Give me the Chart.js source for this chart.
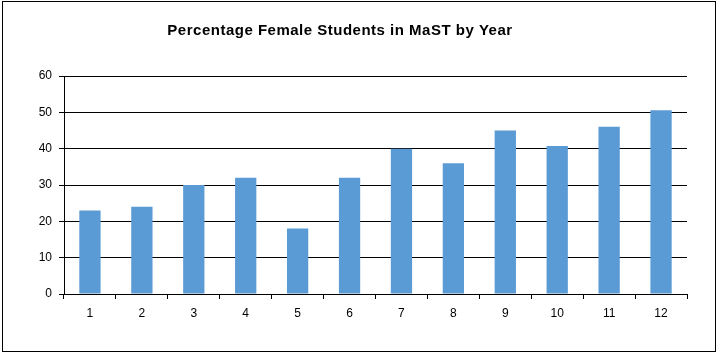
<!DOCTYPE html>
<html><head><meta charset="utf-8">
<script src="https://cdn.jsdelivr.net/npm/chart.js@4"></script>
<style>html,body{margin:0;padding:0;background:#fff}#wrap{width:720px;height:355px}</style>
</head><body><div id="wrap"><canvas id="c" width="720" height="355"></canvas></div>
<script>
const categories = ['1','2','3','4','5','6','7','8','9','10','11','12'];
const femalePct = [23, 24, 30, 32, 18, 32, 40, 36, 45, 40.7, 46, 50.6];
const yTicks = [0, 10, 20, 30, 40, 50, 60];
const titleText = 'Percentage Female Students in MaST by Year';

const frame = {
  id: 'frame',
  afterDraw(chart) {
    const ctx = chart.ctx;
    ctx.save();
    ctx.strokeStyle = '#000';
    ctx.lineWidth = 1;
    ctx.strokeRect(2.5, 1.5, 713, 350);
    ctx.fillStyle = '#000';
    ctx.font = 'bold 15px "Liberation Sans", Arial, sans-serif';
    if ('letterSpacing' in ctx) ctx.letterSpacing = '0.5px';
    ctx.textAlign = 'center';
    ctx.textBaseline = 'middle';
    ctx.fillText(titleText, 340, 31);
    ctx.restore();
  }
};

new Chart(document.getElementById('c'), {
  type: 'bar',
  data: { labels: categories, datasets: [{ data: femalePct, backgroundColor: '#5B9BD5', borderWidth: 0, barPercentage: 0.41, categoryPercentage: 1 }] },
  options: {
    responsive: false, animation: false,
    layout: { padding: { top: 76, left: 0, right: 33, bottom: 31 } },
    plugins: { legend: { display: false }, title: { display: false }, tooltip: { enabled: false } },
    scales: {
      x: {
        afterFit(s) { s.height = 30; },
        grid: { offset: true, drawOnChartArea: false, color: '#000', tickColor: '#000', tickLength: 5 },
        border: { color: '#000', width: 1 },
        ticks: { color: '#000', font: { family: '"Liberation Sans", Arial, sans-serif', size: 12 }, padding: 7, maxRotation: 0 }
      },
      y: {
        min: 0, max: 60,
        afterFit(s) { s.width = 64; },
        afterBuildTicks(s) { s.ticks = yTicks.map(v => ({ value: v })); },
        grid: { color: '#000', tickColor: '#000', tickLength: 5 },
        border: { color: '#000', width: 1 },
        ticks: { color: '#000', font: { family: '"Liberation Sans", Arial, sans-serif', size: 12 }, padding: 7 }
      }
    }
  },
  plugins: [frame]
});
</script></body></html>
